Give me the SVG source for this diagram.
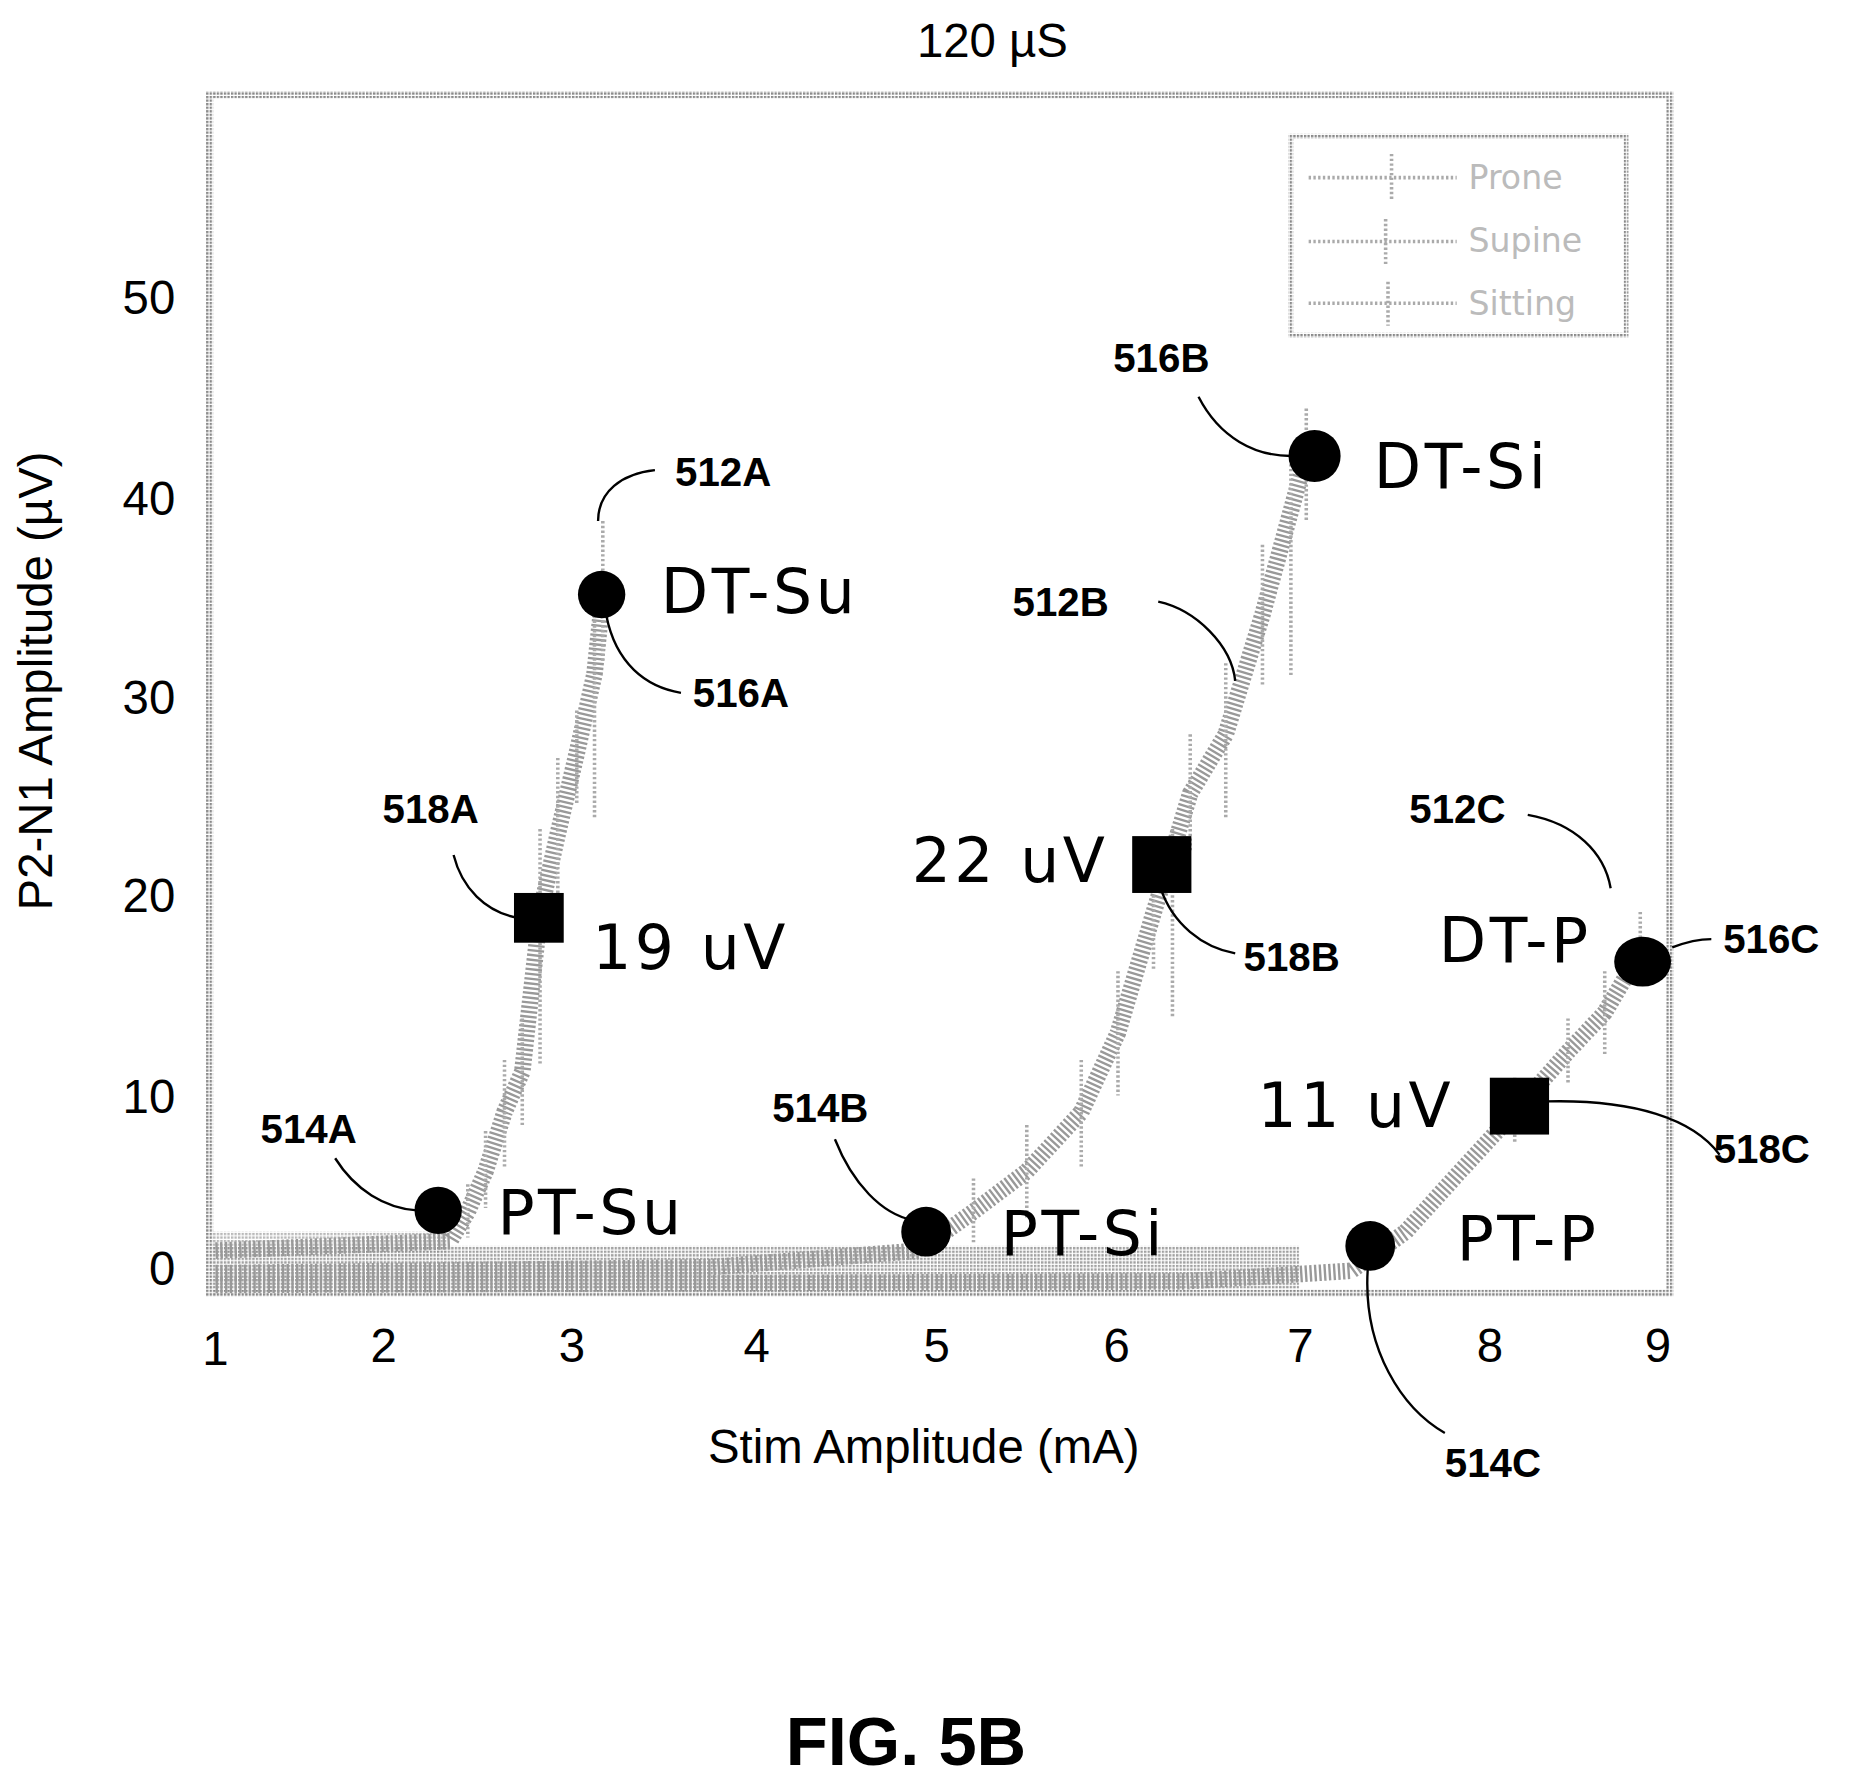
<svg xmlns="http://www.w3.org/2000/svg" width="1857" height="1789" viewBox="0 0 1857 1789">
<defs>
<pattern id="dots" width="3" height="3" patternUnits="userSpaceOnUse"><rect width="3" height="3" fill="#fff"/><rect width="2" height="2" fill="#888"/></pattern>
<style>
.ax{font-family:"Liberation Sans",Arial,sans-serif;font-size:40px;fill:#000}
.ref{font-family:"Liberation Sans",Arial,sans-serif;font-size:34px;font-weight:bold;fill:#000}
.big{font-family:"DejaVu Sans",sans-serif;font-size:52px;letter-spacing:3px;fill:#000}
.leg{font-family:"DejaVu Sans",sans-serif;font-size:28px;fill:#bbb}
.curve{fill:none;stroke:#999;stroke-width:14;stroke-dasharray:2 2}
.err{fill:none;stroke:#aaa;stroke-width:3;stroke-dasharray:2 2}
.lead{fill:none;stroke:#000;stroke-width:2}
</style>
</defs>
<rect width="1857" height="1789" fill="#fff"/>
<g transform="scale(1.1843)">
<g id="frame">
<rect x="177" y="80" width="1233" height="1012" fill="none" stroke="url(#dots)" stroke-width="6"/>
<rect x="177" y="1052" width="920" height="36" fill="url(#dots)" opacity="0.8"/>
<rect x="177" y="1040" width="200" height="20" fill="url(#dots)" opacity="0.6"/>
</g>
<g id="ticks" class="ax">
<text x="182" y="1153" text-anchor="middle">1</text>
<text x="324" y="1150" text-anchor="middle">2</text>
<text x="483" y="1150" text-anchor="middle">3</text>
<text x="639" y="1150" text-anchor="middle">4</text>
<text x="791" y="1150" text-anchor="middle">5</text>
<text x="943" y="1150" text-anchor="middle">6</text>
<text x="1098" y="1150" text-anchor="middle">7</text>
<text x="1258" y="1150" text-anchor="middle">8</text>
<text x="1400" y="1150" text-anchor="middle">9</text>
<text x="148" y="1085" text-anchor="end">0</text>
<text x="148" y="940" text-anchor="end">10</text>
<text x="148" y="770" text-anchor="end">20</text>
<text x="148" y="603" text-anchor="end">30</text>
<text x="148" y="435" text-anchor="end">40</text>
<text x="148" y="265" text-anchor="end">50</text>
<text x="838" y="48" text-anchor="middle">120 µS</text>
<text x="780" y="1235" text-anchor="middle">Stim Amplitude (mA)</text>
<text transform="translate(44,575) rotate(-90)" text-anchor="middle">P2-N1 Amplitude (µV)</text>
<text x="765" y="1490" text-anchor="middle" style="font-size:58px;font-weight:bold">FIG. 5B</text>
</g>
<g id="legend">
<rect x="1090" y="115" width="283" height="168" fill="#fff" stroke="url(#dots)" stroke-width="4"/>
<path class="err" d="M1105 150H1230M1105 204H1230M1105 256H1230M1175 130V170M1170 185V225M1172 238V275"/>
<text class="leg" x="1240" y="160">Prone</text>
<text class="leg" x="1240" y="213">Supine</text>
<text class="leg" x="1240" y="266">Sitting</text>
</g>
<g id="curves">
<polyline class="curve" points="182,1056 380,1048 395,1023 410,989 426,939 441,905 456,771 471,704 487,636 502,569 509,502"/>
<polyline class="curve" points="182,1075 600,1070 776,1056 822,1023 867,989 913,939 944,872 974,771 1005,670 1035,620 1066,519 1103,384"/>
<polyline class="curve" points="182,1085 1000,1082 1141,1073 1187,1040 1233,989 1279,939 1324,888 1355,855 1385,804"/>
<path class="err" d="M395 1000V1045M410 955V1020M426 895V985M441 860V950M456 700V900M471 640V770M487 600V680M502 500V690M509 440V560M822 995V1050M867 950V1030M913 895V985M944 820V925M974 720V820M990 700V860M1005 620V720M1035 560V690M1066 460V580M1090 380V570M1103 345V440M1279 910V965M1324 860V915M1355 820V890M1385 770V830"/>
</g>
<g id="markers" fill="#000">
<circle cx="508" cy="502" r="20"/>
<rect x="434" y="754" width="42" height="42"/>
<circle cx="370" cy="1022" r="20"/>
<circle cx="782" cy="1040" r="21"/>
<circle cx="1110" cy="385" r="22"/>
<rect x="956" y="706" width="50" height="48"/>
<ellipse cx="1387" cy="812" rx="24" ry="21"/>
<rect x="1258" y="910" width="50" height="48"/>
<circle cx="1157" cy="1052" r="21"/>
</g>
<g id="connectors" class="lead">
<path d="M553 397C525 400 505 415 505 440"/>
<path d="M512 520C520 560 545 580 575 585"/>
<path d="M383 722C390 750 410 770 437 775"/>
<path d="M283 978C300 1005 325 1020 352 1022"/>
<path d="M705 962C720 1000 745 1025 770 1030"/>
<path d="M1012 335C1030 370 1060 385 1090 385"/>
<path d="M978 508C1010 515 1040 545 1043 575"/>
<path d="M980 750C990 780 1015 800 1043 805"/>
<path d="M1290 688C1330 695 1355 720 1360 750"/>
<path d="M1412 800C1425 795 1435 793 1445 793"/>
<path d="M1305 930C1380 928 1430 945 1452 975"/>
<path d="M1155 1070C1150 1140 1185 1190 1220 1210"/>
</g>
<g id="labels">
<text class="ref" x="570" y="410">512A</text>
<text class="ref" x="585" y="597">516A</text>
<text class="ref" x="323" y="695">518A</text>
<text class="ref" x="220" y="965">514A</text>
<text class="ref" x="652" y="947">514B</text>
<text class="ref" x="940" y="314">516B</text>
<text class="ref" x="855" y="520">512B</text>
<text class="ref" x="1050" y="820">518B</text>
<text class="ref" x="1190" y="695">512C</text>
<text class="ref" x="1455" y="805">516C</text>
<text class="ref" x="1447" y="982">518C</text>
<text class="ref" x="1220" y="1247">514C</text>
<text class="big" x="558" y="518">DT-Su</text>
<text class="big" x="500" y="818">19 uV</text>
<text class="big" x="420" y="1042">PT-Su</text>
<text class="big" x="845" y="1060">PT-Si</text>
<text class="big" x="1160" y="412">DT-Si</text>
<text class="big" x="936" y="745" text-anchor="end">22 uV</text>
<text class="big" x="1344" y="812" text-anchor="end">DT-P</text>
<text class="big" x="1228" y="952" text-anchor="end">11 uV</text>
<text class="big" x="1230" y="1064">PT-P</text>
</g>
</g>
</svg>
